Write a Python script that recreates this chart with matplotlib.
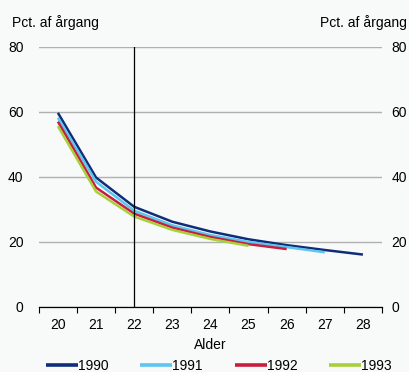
import matplotlib
matplotlib.use("Agg")
import matplotlib.pyplot as plt
import numpy as np

plt.rcParams['font.family'] = ['Liberation Sans', 'DejaVu Sans']

ages = [20, 21, 22, 23, 24, 25, 26, 27, 28]
s1990 = [59.7, 39.8, 30.8, 26.2, 23.2, 20.8, 19.0, 17.5, 16.1]
s1991 = [58.2, 38.5, 29.6, 25.1, 22.1, 20.0, 18.4, 16.8]
s1992 = [57.0, 36.7, 28.7, 24.4, 21.5, 19.3, 17.8]
s1993 = [55.6, 35.5, 27.8, 23.7, 20.9, 18.8]
series = {"1990": s1990, "1991": s1991, "1992": s1992, "1993": s1993}
colors = {"1990": "#0f2d7a", "1991": "#5cc6ee", "1992": "#c81e3e", "1993": "#a8cf3c"}
yticks = [0, 20, 40, 60, 80]
marker_age = 22

bg = "#f8f9f9"
fs = 10
fig = plt.figure(figsize=(4.09, 3.72), dpi=100, facecolor=bg)
ax = fig.add_axes((0.095, 0.175, 0.839, 0.699), facecolor=bg)

for name, vals in series.items():
    ax.plot(ages[:len(vals)], vals, color=colors[name], lw=1.8, label=name,
            solid_capstyle="butt", zorder=3)

ax.axvline(marker_age, color="black", lw=0.9, zorder=4)

ax.set_xlim(19.5, 28.5)
ax.set_ylim(0, 80)
ax.set_yticks(yticks)
ax.yaxis.grid(True, color="#b0b0b0", lw=1.0)
ax.set_axisbelow(True)
ax.tick_params(axis="y", length=0, labelsize=fs, pad=11)
ax.set_xticks(ages)
ax.set_xticks(np.arange(19.5, 28.6, 1.0), minor=True)
ax.tick_params(axis="x", which="major", length=0, labelsize=fs, pad=8)
ax.tick_params(axis="x", which="minor", length=4, width=0.8, direction="out")
for side in ["top", "left", "right"]:
    ax.spines[side].set_visible(False)
ax.spines["bottom"].set_color("black")
ax.spines["bottom"].set_linewidth(0.9)
ax.spines["bottom"].set_zorder(5)

# right-hand axis labels
ax2 = ax.twinx()
ax2.set_ylim(0, 80)
ax2.set_yticks(yticks)
ax2.tick_params(axis="y", length=0, labelsize=fs, pad=7)
for side in ["top", "left", "right", "bottom"]:
    ax2.spines[side].set_visible(False)

ax.set_xlabel("Alder", fontsize=fs, labelpad=4)
fig.text(0.03, 0.94, "Pct. af årgang", fontsize=fs, ha="left", va="center")
fig.text(0.995, 0.94, "Pct. af årgang", fontsize=fs, ha="right", va="center")

leg = fig.legend(*ax.get_legend_handles_labels(), loc="lower center",
                 bbox_to_anchor=(0.535, -0.035), ncol=4, frameon=False,
                 fontsize=fs, handlelength=2.3, handletextpad=0.0, columnspacing=2.3)
for line in leg.get_lines():
    line.set_linewidth(2.6)

fig.savefig("out.png", dpi=100, facecolor=bg)
